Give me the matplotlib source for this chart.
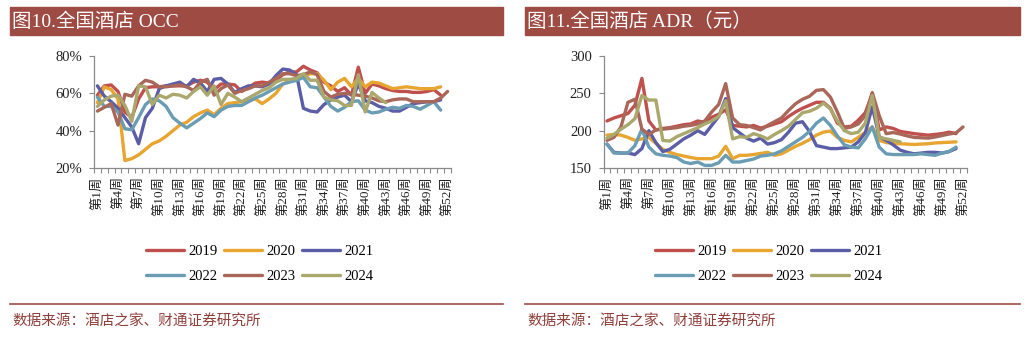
import matplotlib
matplotlib.use("Agg")
import matplotlib.pyplot as plt
from matplotlib.patches import Rectangle
from matplotlib.lines import Line2D
import numpy as np

plt.rcParams['font.family'] = ['Liberation Serif', 'Noto Sans CJK SC']

# ---------------- data ----------------
tick_labels = ["第1周", "第4周", "第7周", "第10周", "第13周", "第16周", "第19周",
               "第22周", "第25周", "第28周", "第31周", "第34周", "第37周", "第40周",
               "第43周", "第46周", "第49周", "第52周"]
years = ["2019", "2020", "2021", "2022", "2023", "2024"]
colors = ["#C0504D", "#E8A530", "#5B5EA6", "#6A9DB3", "#A9675A", "#AAA86C"]

occ_2019 = [59, 64, 64.5, 61, 50, 47, 57, 63, 63.5, 63.5, 64, 64, 64, 64, 66, 67, 66, 62, 65, 65,
            64.5, 61, 63, 65.5, 66, 65.5, 67, 70, 71.5, 71.5, 74.5, 72.5, 71, 66, 64, 61, 63, 59, 74, 60,
            65, 64, 62.5, 61.5, 61, 61, 60.5, 60.5, 61, 62, 59]
occ_2020 = [55, 63.5, 62, 57, 24, 25, 27, 30, 33, 34.5, 37, 40, 43, 44.5, 47.5, 49.5, 51, 48.5, 52, 54.5,
            55, 55.5, 56, 57, 54.5, 57, 60, 65, 67, 68, 69, 70.5, 70.5, 67, 62, 66, 68, 63.5, 68, 63.5,
            66, 65.5, 64, 62.5, 63, 63.5, 63, 62.5, 62.5, 62.5, 63.5]
occ_2021 = [64, 58.5, 55.5, 52, 47, 42, 33, 47, 52, 62.5, 64, 65, 66, 63.5, 67.5, 65.5, 61, 67.5, 68, 65,
            60.5, 62.5, 64, 64, 63.5, 65, 69.5, 73, 72.5, 70, 52, 50.5, 50, 54, 56.5, 58, 59, 55.5, 65, 56,
            55, 53, 52, 50.5, 50.5, 52.5, 54.5, 55, 55.5, 55.5, 56.5]
occ_2022 = [58, 53, 53, 50, 41, 40.5, 47, 54, 57, 56, 53, 47, 44, 41.5, 44, 46.5, 49.5, 47.5, 51, 53,
            53.5, 53.5, 55.5, 57.5, 59, 61, 63, 65, 66, 67, 68.5, 63.5, 63, 58, 53, 50.5, 52.5, 55.5, 56, 51,
            49.5, 50, 51.5, 52.5, 52, 53.5, 53, 51.5, 53.5, 55.5, 51]
occ_2023 = [50.5, 52.5, 54.5, 43, 59.5, 58.5, 64, 67, 66, 63.5, 63.5, 64, 64.5, 63.5, 61.5, 66, 67.5, 59, 62.5, 64.5,
            60, 61.5, 62.5, 64, 64, 66, 68, 70.5, 70.5, 69.5, 70, 71.5, 70, 61, 58, 59.5, 60, 59.5, 59, 58.5,
            57.5, 56, 55.5, 56.5, 57, 57, 55.5, 55.5, 55.5, 55.5, 57.5, 61]
occ_2024 = [53, 56.5, 58.5, 59, 53.5, 45, 64, 63.5, 54, 59, 57.5, 59.5, 59, 57.5, 61, 63.5, 59, 64, 54, 60,
            58, 55.5, 57.5, 59.5, 61.5, 63, 66, 67.5, 67.5, 68, 70.5, 67, 67, 58, 56.5, 56, 53.5, 53.5, 70, 50,
            60.5, 57.5, 55]

adr_2019 = [213, 217, 220, 223, 234, 270, 213, 201, 203, 204, 206, 208, 209, 213, 211, 218, 222, 228, 207, 206,
            205, 207, 203.5, 206, 209, 212, 219, 225, 230, 234, 238, 238, 230, 210, 205, 206, 214, 224, 249, 201,
            205, 203, 199, 197.5, 196, 195, 194, 195, 196, 198, 196]
adr_2020 = [194, 195, 194, 191, 187, 189, 191, 183, 175, 171, 168, 166, 164, 162.5, 162.5, 162.5, 166, 179, 162.5, 167,
            167, 168, 169.5, 171, 167, 169, 174, 179, 183, 188, 194, 198, 199.5, 191, 187, 185, 191, 198, 205, 187,
            184, 183, 182.5, 182, 181.5, 182, 182.5, 183.5, 184, 184.5, 185]
adr_2021 = [182, 171, 170, 170, 168, 176, 200, 184, 172, 175, 182, 189, 194, 200, 195, 207, 219, 243, 204, 197,
            190, 186, 190, 182, 184, 188, 198, 210, 212, 199, 180, 178, 176, 176, 177, 178, 185, 197, 232, 192,
            187, 181, 174, 171, 169, 170, 171, 171, 170, 172, 176]
adr_2022 = [182, 170, 170, 170, 180, 202, 178, 169, 167, 166, 164, 158, 156, 158, 153.5, 153.5, 157, 167, 158, 158,
            160, 162, 166, 167, 169, 173, 179, 185, 191, 199, 210, 217, 207, 193, 181, 178, 177, 189, 205, 178,
            169, 168, 168, 168, 168, 169, 168, 167, 170, 172, 178]
adr_2023 = [187, 191, 205, 238, 242, 202, 195, 201, 202, 203, 204, 206, 207, 209, 213, 225, 235, 263, 217, 208,
            207, 204, 201, 207, 212, 217, 227, 236, 242, 246, 254, 255, 245, 225, 203, 205, 209, 220, 251, 220,
            196, 197.5, 195.5, 193, 191, 190.5, 190, 191.5, 193.5, 195.5, 197, 205]
adr_2024 = [190, 195, 202, 208, 216, 247, 241, 241, 187, 186, 192, 196, 200, 204, 209, 213, 219, 240, 189, 192,
            191, 196, 193, 189, 195, 200, 206, 215, 224, 226, 230, 237, 229, 213, 200, 196, 198, 210, 247, 191,
            189, 187, 185]

occ_series = [occ_2019, occ_2020, occ_2021, occ_2022, occ_2023, occ_2024]
adr_series = [adr_2019, adr_2020, adr_2021, adr_2022, adr_2023, adr_2024]

# ---------------- figure ----------------
W, H = 1030, 345
fig = plt.figure(figsize=(W / 100, H / 100), dpi=100)
bar_color = "#9E4B44"
src_color = "#8E3F3A"
spine_color = "#8A8A8A"


def fx(px):
    return px / W


def fy(py):
    return 1 - py / H


def panel(x0, x1, title, ax_left, ax_right, series, ylim, yticks, yfmt):
    # title bar
    fig.patches.append(Rectangle((fx(x0), fy(35)), fx(x1 - x0), 28 / H,
                                 transform=fig.transFigure, color=bar_color, zorder=0))
    fig.text(fx(x0 + 2), fy(21.5), title, color="white", fontsize=14,
             va="center", ha="left")
    # bottom rule + source
    fig.add_artist(Line2D([fx(x0), fx(x1)], [fy(304), fy(304)], color=bar_color, lw=1.2,
                          transform=fig.transFigure))
    fig.text(fx(x0 + 2), fy(322), "数据来源：酒店之家、财通证券研究所", color=src_color,
             fontsize=10.5, va="center", ha="left")

    ax = fig.add_axes([fx(ax_left), fy(168), fx(ax_right - ax_left), 112 / H])
    handles = []
    for s, c, y in zip(series, colors, years):
        h, = ax.plot(np.arange(len(s)), s, color=c, lw=2.4, label=y, solid_capstyle="round")
        handles.append(h)
    ax.set_xlim(-0.5, 51.5)
    ax.set_ylim(*ylim)
    ax.set_yticks(yticks)
    ax.set_yticklabels([yfmt(v) for v in yticks])
    ax.set_xticks(np.arange(0, 52, 3))
    ax.set_xticklabels(tick_labels, rotation=90)
    ax.set_xticks(np.arange(-0.5, 52, 1), minor=True)
    for sp in ["top", "right"]:
        ax.spines[sp].set_visible(False)
    for sp in ["left", "bottom"]:
        ax.spines[sp].set_color(spine_color)
        ax.spines[sp].set_linewidth(0.9)
    ax.tick_params(axis="x", which="major", length=0, pad=6, labelsize=9.5, colors="#222222")
    ax.tick_params(axis="x", which="minor", length=3.5, width=0.8, color=spine_color, direction="out")
    ax.tick_params(axis="y", which="major", length=3.5, width=0.8, color=spine_color,
                   direction="out", pad=5, labelsize=10.5, labelcolor="#222222")
    order = [0, 3, 1, 4, 2, 5]
    leg_cx = ax_left + 165.5
    fig.legend([handles[i] for i in order], [years[i] for i in order], ncol=3,
               loc="center", bbox_to_anchor=(fx(leg_cx), fy(264)), frameon=False,
               fontsize=10.5, handlelength=2.6, handletextpad=0.3, columnspacing=0.45,
               labelspacing=0.85, borderpad=0)
    return ax


panel(10, 503, "图10.全国酒店 OCC", 94, 451, occ_series, (20, 80), [20, 40, 60, 80],
      lambda v: f"{v}%")
panel(525, 1020, "图11.全国酒店 ADR（元）", 603.5, 966.5, adr_series, (150, 300),
      [150, 200, 250, 300], lambda v: f"{v}")

fig.savefig("out.png", dpi=100)
